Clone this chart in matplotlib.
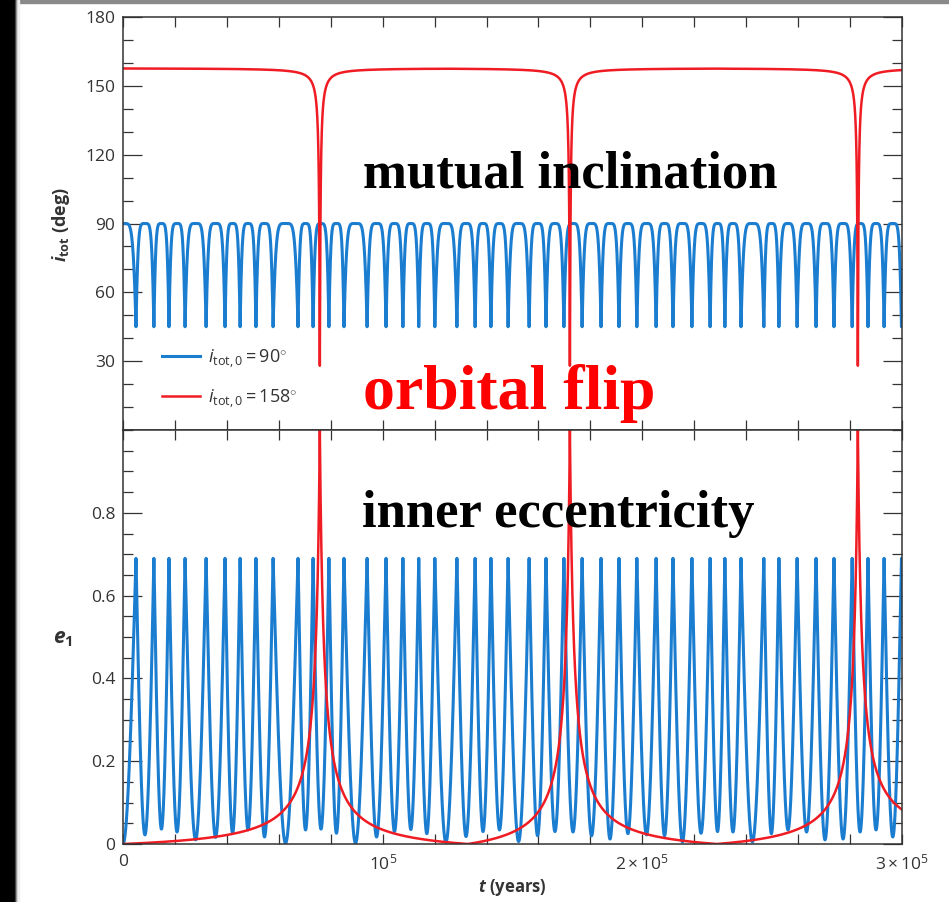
import numpy as np
import matplotlib.pyplot as plt
from matplotlib.patches import Rectangle
from matplotlib.ticker import MultipleLocator

plt.rcParams['font.family'] = ['Open Sans', 'DejaVu Sans']
plt.rcParams['mathtext.fontset'] = 'custom'
plt.rcParams['mathtext.rm'] = 'Open Sans'
plt.rcParams['mathtext.it'] = 'Open Sans:italic'
plt.rcParams['mathtext.bf'] = 'Open Sans:bold'
plt.rcParams['mathtext.bfit'] = 'Open Sans:italic:bold'

# times in thousands of years
# i_tot,0 = 90 run: times of the eccentricity peaks (= inclination dips)
blue_peak_t = [5.0, 11.9, 17.7, 23.9, 32.0, 39.3, 45.1, 51.2, 57.8, 67.4,
               73.2, 79.3, 85.1, 94.0, 101.3, 107.8, 113.9, 120.1, 128.6, 135.6,
               141.7, 148.3, 156.4, 162.9, 169.8, 176.8, 184.1, 191.0, 197.9, 205.3,
               211.8, 219.1, 226.1, 231.8, 238.0, 246.8, 252.6, 259.6, 266.9, 273.8,
               280.8, 286.9, 293.1, 299.8]
# eccentricity at the minima between peaks (first one is the start, last one after the end)
blue_trough_e = [0.0, 0.022, 0.036, 0.029, 0.010, 0.016, 0.026, 0.034, 0.017, 0.002,
                 0.034, 0.036, 0.026, 0.002, 0.017, 0.030, 0.035, 0.025, 0.004, 0.018,
                 0.030, 0.034, 0.006, 0.020, 0.030, 0.029, 0.020, 0.012, 0.025, 0.022,
                 0.020, 0.005, 0.026, 0.030, 0.029, 0.005, 0.025, 0.034, 0.029, 0.010,
                 0.012, 0.029, 0.034, 0.017, 0.020]
blue_e_max = 0.69
blue_i_top = 90.0
blue_i_bottom = 45.0

# i_tot,0 = 158 run: flip times and eccentricity minima
red_flip_t = [75.8, 172.1, 283.0]
red_emin_t = [0.0, 132.8, 228.7]
red_i_flat = 157.7
red_i_low = 28.0

t_end = 300.0


def blue_curves(t):
    pk = np.concatenate([[-blue_peak_t[0]], blue_peak_t,
                         [2 * blue_peak_t[-1] - blue_peak_t[-2]]])
    tr = np.array(blue_trough_e)
    k = np.clip(np.searchsorted(pk, t, side='right') - 1, 0, len(pk) - 2)
    u = (t - pk[k]) / (pk[k + 1] - pk[k])
    e = tr[k] + (blue_e_max - tr[k]) * (1 - np.sin(np.pi * u))
    inc = blue_i_top - (blue_i_top - blue_i_bottom) * (e / blue_e_max) ** 3
    return e, inc


def red_curves(t):
    w = 1.54    # width of the eccentricity spike
    a = 0.254   # width of the inclination spike
    g = lambda d: 1.0 / (1.0 + d / w)
    e = np.zeros_like(t)
    for j, tf in enumerate(red_flip_t):
        left = red_emin_t[j]
        right = red_emin_t[j + 1] if j + 1 < len(red_emin_t) else t_end + 1
        m = (t >= left) & (t <= right)
        d = np.abs(t[m] - tf)
        base_l = g(tf - left)
        base_r = g(right - tf) if j + 1 < len(red_emin_t) else 0.0
        base = np.where(t[m] < tf, base_l, base_r)
        e[m] = np.clip((g(d) - base) / (1 - base), 0, 1)
    dmin = np.min(np.abs(t[:, None] - np.array(red_flip_t)[None, :]), axis=1)
    h = 1.0 / (1.0 + (dmin / a) ** 1.2)
    inc = red_i_flat - (red_i_flat - red_i_low) * h
    return e, inc


t = np.union1d(np.linspace(0, t_end, 40001), red_flip_t)
t = np.union1d(t, blue_peak_t)
e_b, i_b = blue_curves(t)
e_r, i_r = red_curves(t)
years = t * 1e3

blue = '#1b7dd0'
red = '#f01c24'
ink = '#333333'

fig = plt.figure(figsize=(9.49, 9.02), dpi=100)
ax1 = fig.add_axes([123 / 949, 1 - 430 / 902, 779 / 949, 413 / 902])
ax2 = fig.add_axes([123 / 949, 1 - 844 / 902, 779 / 949, 414 / 902])

ax1.plot(years, i_b, color=blue, lw=2.2, label=r'$i_{\mathrm{tot,0}} = 90^{\circ}$')
ax1.plot(years, i_r, color=red, lw=1.8, label=r'$i_{\mathrm{tot,0}} = 158^{\circ}$')
ax2.plot(years, e_b, color=blue, lw=2.2)
ax2.plot(years, e_r, color=red, lw=1.8)

for ax in (ax1, ax2):
    ax.set_xlim(0, 3e5)
    ax.xaxis.set_major_locator(MultipleLocator(1e5))
    ax.xaxis.set_minor_locator(MultipleLocator(2e4))
    ax.tick_params(which='both', direction='in', top=True, right=True,
                   color=ink, labelcolor=ink, labelsize=12.5, width=0.9)
    ax.tick_params(axis='y', which='major', length=14, pad=5.5)
    ax.tick_params(axis='y', which='minor', length=7)
    ax.tick_params(axis='x', which='both', length=7, pad=7)
    for s in ax.spines.values():
        s.set_color(ink)
        s.set_linewidth(1.1)

ax1.set_ylim(0, 180)
ax1.set_yticks([30, 60, 90, 120, 150, 180])
ax1.yaxis.set_minor_locator(MultipleLocator(10))
ax1.tick_params(axis='x', labelbottom=False)

ax2.set_ylim(0, 1.0)
ax2.set_yticks([0, 0.2, 0.4, 0.6, 0.8])
ax2.set_yticklabels(['0', '0.2', '0.4', '0.6', '0.8'])
ax2.yaxis.set_minor_locator(MultipleLocator(0.05))
ax2.set_xticks([0, 1e5, 2e5, 3e5])
ax2.set_xticklabels(['0', r'$10^5$', r'$2\times10^5$', r'$3\times10^5$'])

ax1.legend(loc='center left', bbox_to_anchor=(0.05, 0.125), frameon=False,
           fontsize=13, handlelength=2.1, handletextpad=0.45, labelspacing=0.95,
           borderpad=0, borderaxespad=0, labelcolor=ink)

fig.text(61 / 949, 1 - 224 / 902, r'$\mathbfit{i}_{\mathbf{tot}}$ (deg)', rotation=90,
         ha='center', va='center', fontsize=13, fontweight='bold', color=ink)
fig.text(63 / 949, 1 - 639 / 902, r'$\mathbfit{e}_{\mathbf{1}}$',
         ha='center', va='center', fontsize=15, fontweight='bold', color=ink)
fig.text(512 / 949, 1 - 888 / 902, r'$\mathbfit{t}$ (years)',
         ha='center', va='center', fontsize=12, fontweight='bold', color=ink)

serif = ['Liberation Serif', 'DejaVu Serif']
fig.text(363 / 949, 1 - 187 / 902, 'mutual inclination', family=serif,
         fontweight='bold', fontsize=38, color='black', va='baseline')
fig.text(363 / 949, 1 - 409 / 902, 'orbital flip', family=serif,
         fontweight='bold', fontsize=46, color='#ff0000', va='baseline')
fig.text(362 / 949, 1 - 527 / 902, 'inner eccentricity', family=serif,
         fontweight='bold', fontsize=38, color='black', va='baseline')

# dark frame on the left and top edges of the screenshot
fig.add_artist(Rectangle((0, 0), 15 / 949, 1, transform=fig.transFigure,
                         color='black', zorder=10))
for k, c in enumerate(['#333333', '#888888', '#cccccc', '#eeeeee']):
    fig.add_artist(Rectangle(((15 + k) / 949, 0), 1 / 949, 1,
                             transform=fig.transFigure, color=c, zorder=10))
fig.add_artist(Rectangle((0, 1 - 3 / 902), 1, 3 / 902, transform=fig.transFigure,
                         color='#8a8a8a', zorder=9))

fig.savefig('out.png', dpi=100)
